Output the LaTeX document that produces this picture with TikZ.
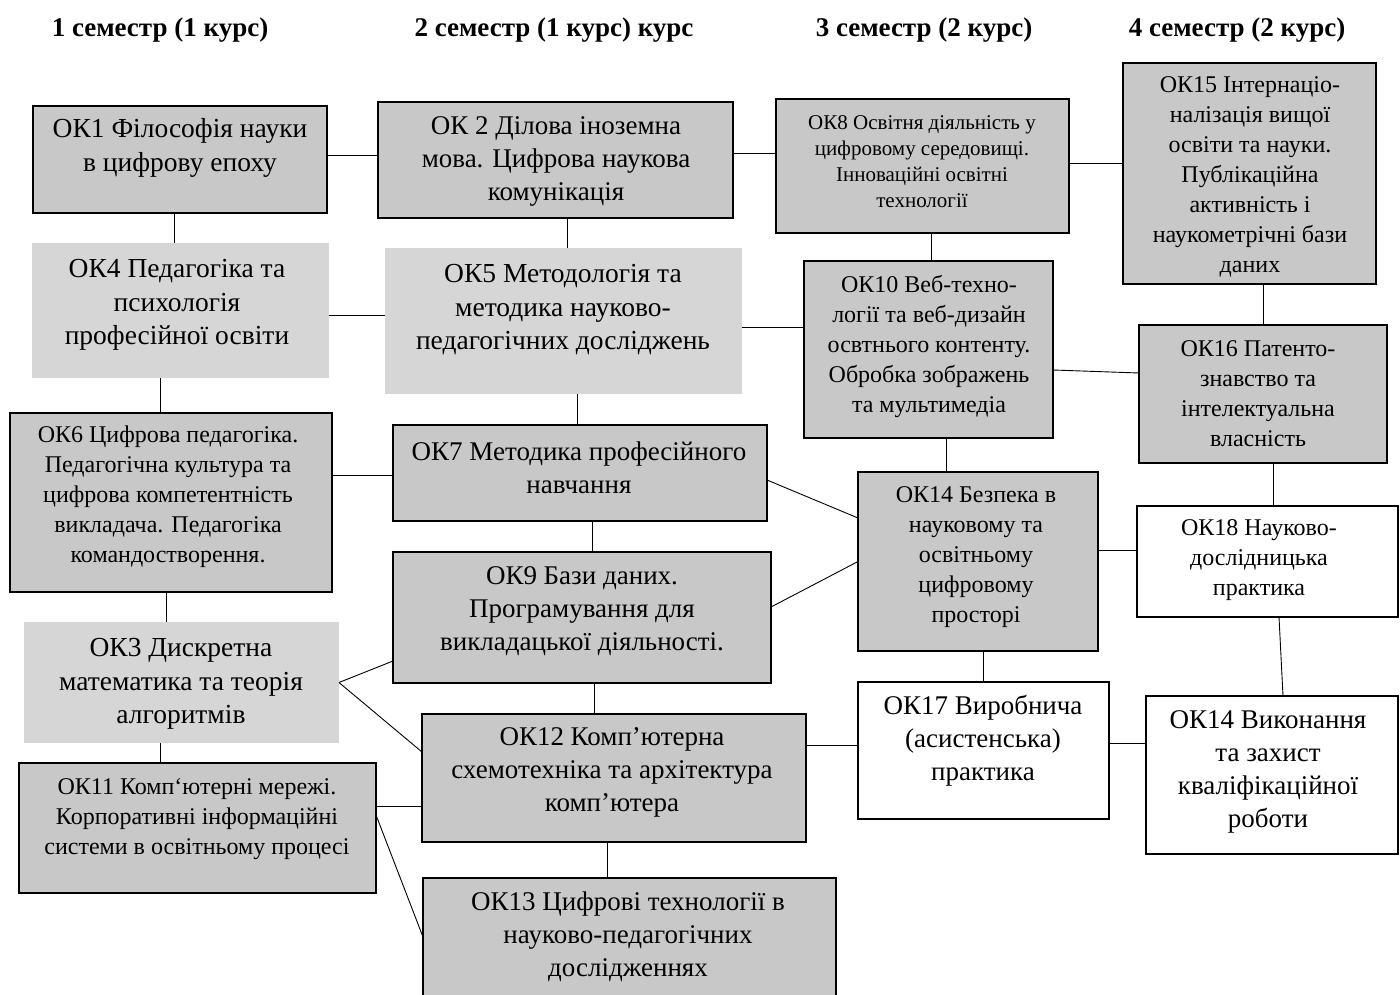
\documentclass[tikz,border=0pt]{standalone}
\usepackage{fontspec}
\setmainfont{Liberation Serif}
\definecolor{gdark}{RGB}{200,200,200}
\definecolor{glight}{RGB}{214,214,214}
\tikzset{
  bx/.style={draw=black, line width=1.1pt, fill=gdark, inner sep=0pt, outer sep=0pt},
  bxthick/.style={bx, line width=2.6pt},
  bxnb/.style={draw=none, fill=glight, inner sep=0pt, outer sep=0pt},
  bxw/.style={draw=black, line width=1.1pt, fill=white, inner sep=0pt, outer sep=0pt},
  tL/.style={align=center, inner sep=0pt, font=\fontsize{27.5}{33.5}\selectfont},
  tM/.style={align=center, inner sep=0pt, font=\fontsize{27}{33}\selectfont},
  tS/.style={align=center, inner sep=0pt, font=\fontsize{24}{30}\selectfont},
  tXS/.style={align=center, inner sep=0pt, font=\fontsize{21}{26}\selectfont},
  hd/.style={inner sep=0pt, font=\fontsize{27}{30}\selectfont\bfseries},
  cn/.style={draw=black, line width=0.9pt},
}
\begin{document}
\begin{tikzpicture}[x=1pt,y=-1pt]
\useasboundingbox (0,0) rectangle (1400,995);
% headers
\node[hd] (h1) at (160,30) {1 семестр (1 курс)};
\node[hd] (h2) at (554,30) {2 семестр (1 курс) курс};
\node[hd] (h3) at (924,30) {3 семестр (2 курс)};
\node[hd] (h4) at (1237,30) {4 семестр (2 курс)};
% boxes
\node[bx, minimum width=294pt, minimum height=107pt] (ok1) at (180,159.5) {};
\node[bxthick, minimum width=355pt, minimum height=116pt] (ok2) at (555.5,160) {};
\node[bx, minimum width=293pt, minimum height=134pt] (ok8) at (922.5,166) {};
\node[bx, minimum width=253pt, minimum height=221pt] (ok15) at (1249.5,173.5) {};
\node[bxnb, minimum width=297pt, minimum height=135pt] (ok4) at (180.5,310.5) {};
\node[bxnb, minimum width=357pt, minimum height=146pt] (ok5) at (563.5,321) {};
\node[bx, minimum width=249pt, minimum height=177pt] (ok10) at (928.5,349.5) {};
\node[bx, minimum width=248pt, minimum height=138pt] (ok16) at (1263,394) {};
\node[bx, minimum width=322pt, minimum height=179pt] (ok6) at (171,502.5) {};
\node[bx, minimum width=374pt, minimum height=96pt] (ok7) at (580,473) {};
\node[bx, minimum width=240pt, minimum height=179pt] (ok14b) at (978,561.5) {};
\node[bxw, minimum width=261pt, minimum height=111pt] (ok18) at (1267.5,561.5) {};
\node[bx, minimum width=378pt, minimum height=131pt] (ok9) at (582,617.5) {};
\node[bxnb, minimum width=315pt, minimum height=121pt] (ok3) at (181.5,682.5) {};
\node[bx, minimum width=384pt, minimum height=128pt] (ok12) at (614,778) {};
\node[bxw, minimum width=251pt, minimum height=137pt] (ok17) at (983.5,750.5) {};
\node[bxw, minimum width=252pt, minimum height=158pt] (ok14v) at (1272,775) {};
\node[bx, minimum width=357pt, minimum height=130pt] (ok11) at (197.5,828) {};
\node[bx, minimum width=413pt, minimum height=118pt] (ok13) at (629.5,937) {};
% texts
\node[tL] (t1) at (180,148) {ОК1 Філософія науки\\в цифрову епоху};
\node[tM] (t2) at (556,161) {ОК 2 Ділова іноземна\\мова. Цифрова наукова\\комунікація};
\node[tXS] (t8) at (922,162) {ОК8 Освітня діяльність у\\цифровому середовищі.\\Інноваційні освітні\\технології};
\node[tS] (t15) at (1250,176.5) {ОК15 Інтернаціо-\\налізація вищої\\освіти та науки.\\Публікаційна\\активність і\\наукометрічні бази\\даних};
\node[tL] (t4) at (177,305) {ОК4 Педагогіка та\\психологія\\професійної освіти};
\node[tL] (t5) at (563,310) {ОК5 Методологія та\\методика науково-\\педагогічних досліджень};
\node[tS] (t10) at (929,346) {ОК10 Веб-техно-\\логії та веб-дизайн\\освтнього контенту.\\Обробка зображень\\та мультимедіа};
\node[tS] (t16) at (1258,394) {ОК16 Патенто-\\знавство та\\інтелектуальна\\власність};
\node[tS] (t6) at (168,497) {ОК6 Цифрова педагогіка.\\Педагогічна культура та\\цифрова компетентність\\викладача. Педагогіка\\командостворення.};
\node[tM] (t7) at (579,467.5) {ОК7 Методика професійного\\навчання};
\node[tS] (t14b) at (976,557) {ОК14 Безпека в\\науковому та\\освітньому\\цифровому\\просторі};
\node[tS] (t18) at (1259,560) {ОК18 Науково-\\дослідницька\\практика};
\node[tM] (t9) at (582,611.5) {ОК9 Бази даних.\\Програмування для\\викладацької діяльності.};
\node[tL] (t3) at (181,684) {ОК3 Дискретна\\математика та теорія\\алгоритмів};
\node[tM] (t12) at (612,772.5) {ОК12 Комп’ютерна\\схемотехніка та архітектура\\комп’ютера};
\node[tM] (t17) at (983,741) {ОК17 Виробнича\\(асистенська)\\практика};
\node[tM] (t14v) at (1268,771.5) {ОК14 Виконання\\та захист\\кваліфікаційної\\роботи};
\node[tS] (t11) at (197,819) {ОК11 Комп‘ютерні мережі.\\Корпоративні інформаційні\\системи в освітньому процесі};
\node[tM] (t13) at (628,937) {ОК13 Цифрові технології в\\науково-педагогічних\\дослідженнях};
% horizontal connectors
\draw[cn] ([yshift=4.5pt]ok1.east) -- ([yshift=4.5pt]ok1.east -| ok2.west);
\draw[cn] ([yshift=7pt]ok2.east) -- ([yshift=7pt]ok2.east -| ok8.west);
\draw[cn] ([yshift=3pt]ok8.east) -- ([yshift=3pt]ok8.east -| ok15.west);
\draw[cn] ([yshift=-4.5pt]ok4.east) -- ([yshift=-4.5pt]ok4.east -| ok5.west);
\draw[cn] ([yshift=-6pt]ok5.east) -- ([yshift=-6pt]ok5.east -| ok10.west);
\draw[cn] ([yshift=-20.5pt]ok10.east) -- ([yshift=21pt]ok16.west);
\draw[cn] ([yshift=27.5pt]ok6.east) -- ([yshift=27.5pt]ok6.east -| ok7.west);
\draw[cn] ([yshift=-7pt]ok7.east) -- ([yshift=43.5pt]ok14b.west);
\draw[cn] ([yshift=10.5pt]ok9.east) -- (ok14b.west);
\draw[cn] ([yshift=11.5pt]ok14b.east) -- ([yshift=11.5pt]ok14b.east -| ok18.west);
\draw[cn] (ok3.east) -- ([yshift=-43.5pt]ok9.west);
\draw[cn] (ok3.east) -- ([yshift=26pt]ok12.west);
\draw[cn] ([yshift=22pt]ok11.east) -- ([yshift=22pt]ok11.east -| ok12.west);
\draw[cn] ([yshift=13pt]ok11.east) -- (ok13.west);
\draw[cn] ([yshift=33pt]ok12.east) -- ([yshift=33pt]ok12.east -| ok17.west);
\draw[cn] ([yshift=7.5pt]ok17.east) -- ([yshift=7.5pt]ok17.east -| ok14v.west);
% vertical connectors
\draw[cn] ([xshift=-6pt]ok1.south) -- ([xshift=-6pt]ok1.south |- ok4.north);
\draw[cn] ([xshift=-20.5pt]ok4.south) -- ([xshift=-20.5pt]ok4.south |- ok6.north);
\draw[cn] ([xshift=-5pt]ok6.south) -- ([xshift=-5pt]ok6.south |- ok3.north);
\draw[cn] ([xshift=-21.5pt]ok3.south) -- ([xshift=-21.5pt]ok3.south |- ok11.north);
\draw[cn] ([xshift=11.5pt]ok2.south) -- ([xshift=11.5pt]ok2.south |- ok5.north);
\draw[cn] ([xshift=13.5pt]ok5.south) -- ([xshift=13.5pt]ok5.south |- ok7.north);
\draw[cn] ([xshift=12pt]ok7.south) -- ([xshift=12pt]ok7.south |- ok9.north);
\draw[cn] ([xshift=12pt]ok9.south) -- ([xshift=12pt]ok9.south |- ok12.north);
\draw[cn] ([xshift=-7pt]ok12.south) -- ([xshift=-7pt]ok12.south |- ok13.north);
\draw[cn] ([xshift=8.5pt]ok8.south) -- ([xshift=8.5pt]ok8.south |- ok10.north);
\draw[cn] ([xshift=17.5pt]ok10.south) -- ([xshift=17.5pt]ok10.south |- ok14b.north);
\draw[cn] ([xshift=5pt]ok14b.south) -- ([xshift=5pt]ok14b.south |- ok17.north);
\draw[cn] ([xshift=13.5pt]ok15.south) -- ([xshift=13.5pt]ok15.south |- ok16.north);
\draw[cn] ([xshift=10pt]ok16.south) -- ([xshift=10pt]ok16.south |- ok18.north);
\draw[cn] ([xshift=11.5pt]ok18.south) -- ([xshift=11pt]ok14v.north);
\end{tikzpicture}
\end{document}
